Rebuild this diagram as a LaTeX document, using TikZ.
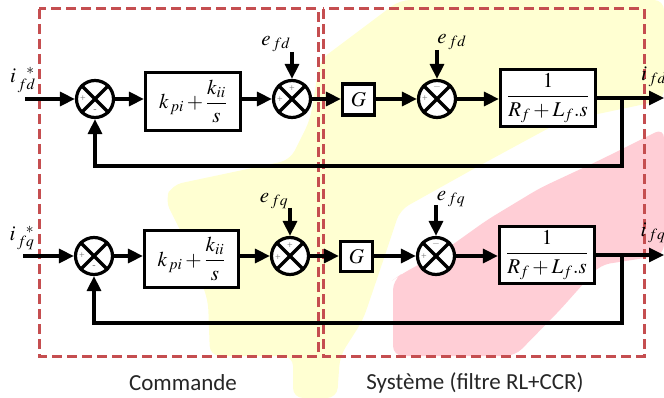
\documentclass[tikz,border=0pt]{standalone}
\usepackage{amsmath}
\usepackage{mathptmx}
\usepackage{fontspec}
\setmainfont{Liberation Serif}
\newfontfamily\capfont{Carlito}
\usetikzlibrary{arrows.meta,calc}
\definecolor{dashred}{RGB}{197,78,80}
\definecolor{wmyellow}{RGB}{255,255,210}
\definecolor{wmpink}{RGB}{255,206,214}
\begin{document}
\begin{tikzpicture}[x=1pt,y=-1pt,
  >={Triangle[length=15pt,width=14pt]},
  sum/.style={circle,draw,fill=white,line width=3.2pt,minimum size=37pt,inner sep=0pt},
  blk/.style={draw,fill=white,line width=3.2pt,inner sep=0pt,font=\fontsize{21}{25}\selectfont},
  sig/.style={line width=3.2pt},
  region/.style={draw=dashred,line width=3pt,dash pattern=on 10pt off 5pt},
  lab/.style={font=\fontsize{21}{25}\selectfont,inner sep=0pt},
  sgn/.style={font=\fontsize{10}{11}\selectfont,text=black!55,inner sep=0pt},
  captxt/.style={font=\capfont\fontsize{23}{27}\selectfont,text=black!85,inner sep=0pt}]
\useasboundingbox (0,0) rectangle (664,398);
% watermark background
\fill[wmyellow,rounded corners=10pt] (400,0) -- (664,0) -- (664,100) -- (560,122) -- (477,167)
  -- (400,210) -- (380,270) -- (363,320) -- (340,356) -- (337,398) -- (293,398) -- (293,356)
  -- (210,356) -- (208,300) -- (185,240) -- (165,200) -- (172,185) -- (290,160) -- (310,120)
  -- (320,60) -- cycle;
\fill[wmpink,rounded corners=10pt] (664,128) -- (600,160) -- (540,188) -- (487,220) -- (445,250)
  -- (400,275) -- (393,280) -- (393,356) -- (515,356) -- (560,310) -- (600,265) -- (664,255) -- cycle;
% regions
\draw[region] (39,9) rectangle (318,356);
\draw[region] (323,9) rectangle (644,356);
% ---------- d axis ----------
\node[sum] (s1d) at (95,99) {};
\node[blk,minimum width=95pt,minimum height=58pt] (pid) at (193,101.5) {$k_{\,pi}+\dfrac{k_{ii}}{s}$};
\node[sum] (s2d) at (292,99) {};
\node[blk,minimum width=32pt,minimum height=31pt] (gd) at (358.5,99.5) {$G$};
\node[sum] (s3d) at (437,99) {};
\node[blk,minimum width=95pt,minimum height=57pt] (tfd) at (548,98) {$\dfrac{1}{R_f+L_f.s}$};
\coordinate (ind) at (25,99);
\coordinate (e2d) at (292,52);
\coordinate (e3d) at (437,50);
\coordinate (brd) at (622,98);
\coordinate (fbd) at (622,166);
\coordinate (outd) at (664,98);
\foreach \s in {s1d,s2d,s3d}{
  \draw[sig] (\s.north west) -- (\s.south east);
  \draw[sig] (\s.north east) -- (\s.south west);}
\draw[sig,->] (ind) -- (s1d);
\draw[sig,->] (s1d) -- (s1d -| pid.west);
\draw[sig,->] (pid.east |- s2d) -- (s2d);
\draw[sig,->] (e2d) -- (s2d);
\draw[sig,->] (s2d) -- (s2d -| gd.west);
\draw[sig,->] (gd.east |- s3d) -- (s3d);
\draw[sig,->] (e3d) -- (s3d);
\draw[sig,->] (s3d) -- (s3d -| tfd.west);
\draw[sig,->] (tfd.east |- outd) -- (outd);
\draw[sig,->] (brd) -- (fbd) -| (s1d);
\node[lab] (lid) at (23,80) {$i_{\,fd}^{\;\;\;*}$};
\node[lab] (le2d) at (276,44) {$e_{\,fd}$};
\node[lab] (le3d) at (452,42) {$e_{\,fd}$};
\node[lab] (lod) at (654,77) {$i_{\,fd}$};
\node[sgn] at ($(s1d)+(-12,0)$) {+};
\node[sgn] at ($(s1d)+(0,12)$) {-};
\node[sgn] at ($(s2d)+(0,-10)$) {+};
\node[sgn] at ($(s2d)+(-12,1)$) {+};
\node[sgn] at ($(s3d)+(0,-12)$) {$-$};
\node[sgn] at ($(s3d)+(-12,0)$) {+};
% ---------- q axis ----------
\node[sum] (s1q) at (94,256) {};
\node[blk,minimum width=94pt,minimum height=57pt] (piq) at (191.5,259) {$k_{\,pi}+\dfrac{k_{ii}}{s}$};
\node[sum] (s2q) at (290,256) {};
\node[blk,minimum width=32pt,minimum height=30pt] (gq) at (356.5,256.5) {$G$};
\node[sum] (s3q) at (436,256) {};
\node[blk,minimum width=95pt,minimum height=57pt] (tfq) at (547,255) {$\dfrac{1}{R_f+L_f.s}$};
\coordinate (inq) at (23,256);
\coordinate (e2q) at (290,208);
\coordinate (e3q) at (436,205);
\coordinate (brq) at (622,255);
\coordinate (fbq) at (622,323);
\coordinate (outq) at (664,255);
\foreach \s in {s1q,s2q,s3q}{
  \draw[sig] (\s.north west) -- (\s.south east);
  \draw[sig] (\s.north east) -- (\s.south west);}
\draw[sig,->] (inq) -- (s1q);
\draw[sig,->] (s1q) -- (s1q -| piq.west);
\draw[sig,->] (piq.east |- s2q) -- (s2q);
\draw[sig,->] (e2q) -- (s2q);
\draw[sig,->] (s2q) -- (s2q -| gq.west);
\draw[sig,->] (gq.east |- s3q) -- (s3q);
\draw[sig,->] (e3q) -- (s3q);
\draw[sig,->] (s3q) -- (s3q -| tfq.west);
\draw[sig,->] (tfq.east |- outq) -- (outq);
\draw[sig,->] (brq) -- (fbq) -| (s1q);
\node[lab] (liq) at (22,238) {$i_{\,fq}^{\;\;\;*}$};
\node[lab] (le2q) at (274,201) {$e_{\,fq}$};
\node[lab] (le3q) at (451,199) {$e_{\,fq}$};
\node[lab] (loq) at (653,233) {$i_{\,fq}$};
\node[sgn] at ($(s1q)+(-12,0)$) {+};
\node[sgn] at ($(s1q)+(0,11)$) {-};
\node[sgn] at ($(s2q)+(0,-10)$) {+};
\node[sgn] at ($(s2q)+(-12,2)$) {+};
\node[sgn] at ($(s3q)+(0,-12)$) {$-$};
\node[sgn] at ($(s3q)+(-12,1)$) {+};
% captions
\node[captxt] (c1) at (183,383) {Commande};
\node[captxt] (c2) at (475,383) {Système (filtre RL+CCR)};
\end{tikzpicture}
\end{document}
